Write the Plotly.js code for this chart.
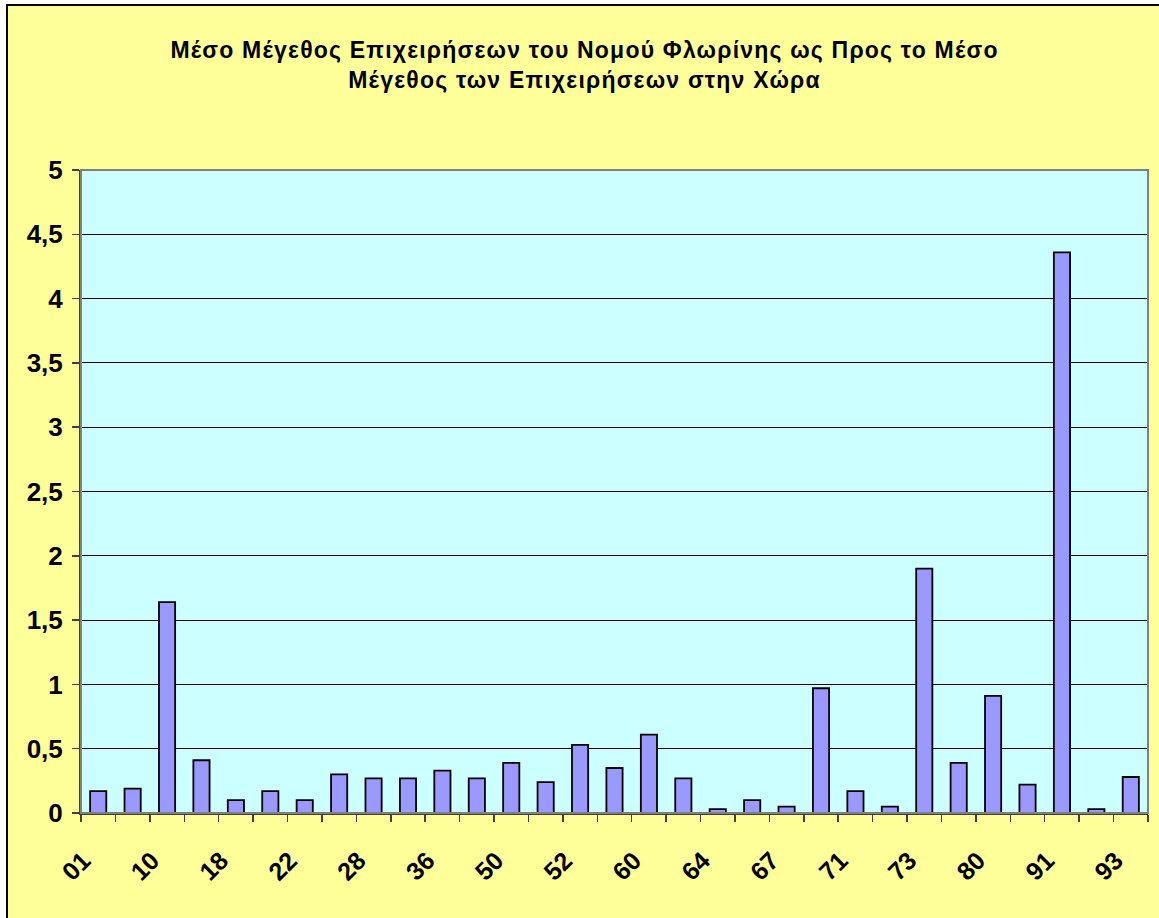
<!DOCTYPE html>
<html>
<head>
<meta charset="utf-8">
<script src="https://cdn.plot.ly/plotly-3.0.1.min.js"></script>
<style>
  html, body { margin: 0; padding: 0; background: #ffffff; overflow: hidden; width: 1159px; height: 918px; }
  #frame { position: absolute; left: 6px; top: 4px; border-left: 2px solid #000; border-top: 2px solid #000; width: 1160px; height: 920px; }
  #chart { width: 1160px; height: 920px; }
  #chart .gtitle { letter-spacing: 1.2px; }
</style>
</head>
<body>
<div id="frame"><div id="chart"></div></div>
<script>
// Sector codes (every other code is not labelled in the original chart)
const categories = ['01','02','10','14','18','20','22','26','28','29','36','45','50','51','52','55',
                    '60','63','64','65','67','70','71','72','73','74','80','85','91','92','93'];
const values = [0.17,0.19,1.64,0.41,0.10,0.17,0.10,0.30,0.27,0.27,0.33,0.27,0.39,0.24,0.53,0.35,
                0.61,0.27,0.03,0.10,0.05,0.97,0.17,0.05,1.90,0.39,0.91,0.22,4.36,0.03,0.28];
const shownLabels = ['01','10','18','22','28','36','50','52','60','64','67','71','73','80','91','93'];
const yTicks = [0,0.5,1,1.5,2,2.5,3,3.5,4,4.5,5];
const titleText = 'Μέσο Μέγεθος Επιχειρήσεων του Νομού Φλωρίνης ως Προς το Μέσο<br>Μέγεθος των Επιχειρήσεων στην Χώρα';

const tickText = categories.map(c => shownLabels.includes(c) ? c : '');

const trace = {
  type: 'bar',
  x: categories,
  y: values,
  marker: { color: '#9999FF', line: { color: '#000000', width: 1.8 } },
  hoverinfo: 'x+y'
};

const layout = {
  width: 1160, height: 920,
  paper_bgcolor: '#FFFF99',
  plot_bgcolor: '#CCFFFF',
  separators: ',.',
  margin: { l: 73, r: 20, t: 164, b: 113, pad: 0 },
  font: { family: 'Arial, "Liberation Sans", sans-serif', color: '#000' },
  title: {
    text: titleText,
    font: { size: 23, weight: 'bold', family: 'Arial, "Liberation Sans", sans-serif', color: '#000' },
    xref: 'container', x: 0.497, xanchor: 'center',
    yref: 'container', y: 0.943, yanchor: 'top'
  },
  bargap: 0.53,
  showlegend: false,
  xaxis: {
    type: 'category',
    tickmode: 'array',
    tickvals: categories,
    ticktext: tickText,
    tickson: 'boundaries',
    ticks: 'outside', ticklen: 7, tickwidth: 1.5, tickcolor: '#404040',
    tickangle: -45,
    ticklabelstandoff: 21,
    ticklabelshift: -15,
    tickfont: { size: 25, weight: 'bold' },
    showline: true, linecolor: '#404040', linewidth: 2,
    showgrid: false, zeroline: false,
    fixedrange: true
  },
  yaxis: {
    range: [0, 5],
    tickmode: 'array',
    tickvals: yTicks,
    ticks: 'outside', ticklen: 7, tickwidth: 1.5, tickcolor: '#404040',
    ticklabelstandoff: 4,
    tickfont: { size: 26, weight: 'bold' },
    showline: true, linecolor: '#404040', linewidth: 2,
    showgrid: true, gridcolor: '#000000', gridwidth: 1,
    zeroline: false,
    fixedrange: true
  },
  shapes: [{
    type: 'rect', xref: 'paper', yref: 'paper', x0: 0, x1: 1, y0: 0, y1: 1,
    line: { color: '#808080', width: 2 }, fillcolor: 'rgba(0,0,0,0)', layer: 'above'
  }]
};

Plotly.newPlot('chart', [trace], layout, { displayModeBar: false, staticPlot: true });
</script>
</body>
</html>
